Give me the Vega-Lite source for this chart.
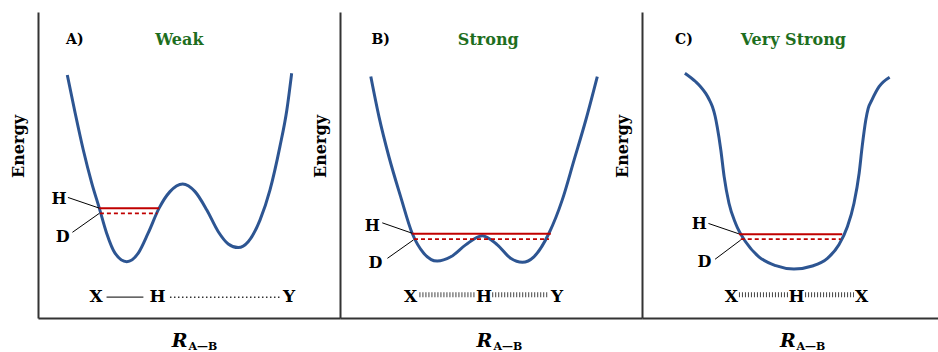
{
  "$schema": "https://vega.github.io/schema/vega-lite/v6.json",
  "padding": {"left": 10, "top": 12, "right": 0, "bottom": 0},
  "config": {
    "view": {"stroke": null},
    "axis": {"domainColor": "#333333", "domainWidth": 2, "ticks": false, "labels": false, "grid": false, "titleFont": "DejaVu Serif", "titleFontWeight": "bold", "titleFontSize": 16, "titleColor": "#000000"},
    "axisY": {"titleX": -20, "titleY": 134, "titleBaseline": "middle"}
  },
  "data": {"values": [
    {"panel": "A", "kind": "curve", "R": 0.97, "E": 7.94},
    {"panel": "A", "kind": "curve", "R": 1.23, "E": 6.70},
    {"panel": "A", "kind": "curve", "R": 1.50, "E": 5.49},
    {"panel": "A", "kind": "curve", "R": 1.78, "E": 4.41},
    {"panel": "A", "kind": "curve", "R": 2.03, "E": 3.59},
    {"panel": "A", "kind": "curve", "R": 2.27, "E": 2.78},
    {"panel": "A", "kind": "curve", "R": 2.55, "E": 2.12},
    {"panel": "A", "kind": "curve", "R": 2.94, "E": 1.84},
    {"panel": "A", "kind": "curve", "R": 3.32, "E": 2.12},
    {"panel": "A", "kind": "curve", "R": 3.65, "E": 2.78},
    {"panel": "A", "kind": "curve", "R": 4.01, "E": 3.59},
    {"panel": "A", "kind": "curve", "R": 4.37, "E": 4.13},
    {"panel": "A", "kind": "curve", "R": 4.79, "E": 4.38},
    {"panel": "A", "kind": "curve", "R": 5.20, "E": 4.13},
    {"panel": "A", "kind": "curve", "R": 5.59, "E": 3.53},
    {"panel": "A", "kind": "curve", "R": 5.97, "E": 2.82},
    {"panel": "A", "kind": "curve", "R": 6.30, "E": 2.42},
    {"panel": "A", "kind": "curve", "R": 6.63, "E": 2.30},
    {"panel": "A", "kind": "curve", "R": 6.96, "E": 2.49},
    {"panel": "A", "kind": "curve", "R": 7.35, "E": 3.20},
    {"panel": "A", "kind": "curve", "R": 7.68, "E": 4.18},
    {"panel": "A", "kind": "curve", "R": 8.01, "E": 5.60},
    {"panel": "A", "kind": "curve", "R": 8.24, "E": 6.80},
    {"panel": "A", "kind": "curve", "R": 8.40, "E": 8.00},

    {"panel": "B", "kind": "curve", "R": 1.02, "E": 7.89},
    {"panel": "B", "kind": "curve", "R": 1.29, "E": 6.58},
    {"panel": "B", "kind": "curve", "R": 1.62, "E": 5.27},
    {"panel": "B", "kind": "curve", "R": 2.01, "E": 3.96},
    {"panel": "B", "kind": "curve", "R": 2.39, "E": 2.77},
    {"panel": "B", "kind": "curve", "R": 2.78, "E": 2.11},
    {"panel": "B", "kind": "curve", "R": 3.22, "E": 1.86},
    {"panel": "B", "kind": "curve", "R": 3.67, "E": 2.00},
    {"panel": "B", "kind": "curve", "R": 4.16, "E": 2.39},
    {"panel": "B", "kind": "curve", "R": 4.71, "E": 2.69},
    {"panel": "B", "kind": "curve", "R": 5.21, "E": 2.39},
    {"panel": "B", "kind": "curve", "R": 5.65, "E": 1.95},
    {"panel": "B", "kind": "curve", "R": 6.04, "E": 1.82},
    {"panel": "B", "kind": "curve", "R": 6.42, "E": 2.00},
    {"panel": "B", "kind": "curve", "R": 6.92, "E": 2.77},
    {"panel": "B", "kind": "curve", "R": 7.36, "E": 3.86},
    {"panel": "B", "kind": "curve", "R": 7.75, "E": 5.16},
    {"panel": "B", "kind": "curve", "R": 8.14, "E": 6.47},
    {"panel": "B", "kind": "curve", "R": 8.52, "E": 7.89},

    {"panel": "C", "kind": "curve", "R": 1.42, "E": 8.00},
    {"panel": "C", "kind": "curve", "R": 1.78, "E": 7.72},
    {"panel": "C", "kind": "curve", "R": 1.94, "E": 7.56},
    {"panel": "C", "kind": "curve", "R": 2.11, "E": 7.34},
    {"panel": "C", "kind": "curve", "R": 2.22, "E": 7.15},
    {"panel": "C", "kind": "curve", "R": 2.33, "E": 6.91},
    {"panel": "C", "kind": "curve", "R": 2.42, "E": 6.60},
    {"panel": "C", "kind": "curve", "R": 2.49, "E": 6.25},
    {"panel": "C", "kind": "curve", "R": 2.61, "E": 5.49},
    {"panel": "C", "kind": "curve", "R": 2.72, "E": 4.62},
    {"panel": "C", "kind": "curve", "R": 2.88, "E": 3.75},
    {"panel": "C", "kind": "curve", "R": 3.10, "E": 3.09},
    {"panel": "C", "kind": "curve", "R": 3.43, "E": 2.49},
    {"panel": "C", "kind": "curve", "R": 3.87, "E": 2.00},
    {"panel": "C", "kind": "curve", "R": 4.43, "E": 1.71},
    {"panel": "C", "kind": "curve", "R": 5.03, "E": 1.60},
    {"panel": "C", "kind": "curve", "R": 5.64, "E": 1.70},
    {"panel": "C", "kind": "curve", "R": 6.14, "E": 1.95},
    {"panel": "C", "kind": "curve", "R": 6.52, "E": 2.39},
    {"panel": "C", "kind": "curve", "R": 6.80, "E": 2.98},
    {"panel": "C", "kind": "curve", "R": 7.02, "E": 3.75},
    {"panel": "C", "kind": "curve", "R": 7.19, "E": 4.73},
    {"panel": "C", "kind": "curve", "R": 7.29, "E": 5.60},
    {"panel": "C", "kind": "curve", "R": 7.41, "E": 6.47},
    {"panel": "C", "kind": "curve", "R": 7.49, "E": 6.85},
    {"panel": "C", "kind": "curve", "R": 7.61, "E": 7.12},
    {"panel": "C", "kind": "curve", "R": 7.85, "E": 7.56},
    {"panel": "C", "kind": "curve", "R": 8.20, "E": 7.87},

    {"panel": "A", "kind": "levelH", "R": 2.03, "R2": 4.01, "E": 3.59},
    {"panel": "A", "kind": "levelD", "R": 2.05, "R2": 3.95, "E": 3.42},
    {"panel": "B", "kind": "levelH", "R": 2.39, "R2": 6.98, "E": 2.75},
    {"panel": "B", "kind": "levelD", "R": 2.45, "R2": 6.92, "E": 2.58},
    {"panel": "C", "kind": "levelH", "R": 3.21, "R2": 6.63, "E": 2.74},
    {"panel": "C", "kind": "levelD", "R": 3.27, "R2": 6.58, "E": 2.58},

    {"panel": "A", "kind": "leader", "R": 0.99, "E": 3.94, "R2": 2.03, "E2": 3.59},
    {"panel": "A", "kind": "leader", "R": 1.14, "E": 2.80, "R2": 2.03, "E2": 3.42},
    {"panel": "B", "kind": "leader", "R": 1.40, "E": 3.11, "R2": 2.39, "E2": 2.77},
    {"panel": "B", "kind": "leader", "R": 1.57, "E": 1.95, "R2": 2.43, "E2": 2.55},
    {"panel": "C", "kind": "leader", "R": 2.20, "E": 3.09, "R2": 3.21, "E2": 2.75},
    {"panel": "C", "kind": "leader", "R": 2.42, "E": 1.92, "R2": 3.27, "E2": 2.55},

    {"panel": "A", "kind": "lvlLabel", "R": 0.70, "E": 3.90, "text": "H"},
    {"panel": "A", "kind": "lvlLabel", "R": 0.82, "E": 2.66, "text": "D"},
    {"panel": "B", "kind": "lvlLabel", "R": 1.07, "E": 3.01, "text": "H"},
    {"panel": "B", "kind": "lvlLabel", "R": 1.17, "E": 1.81, "text": "D"},
    {"panel": "C", "kind": "lvlLabel", "R": 1.90, "E": 3.07, "text": "H"},
    {"panel": "C", "kind": "lvlLabel", "R": 2.07, "E": 1.84, "text": "D"},

    {"panel": "A", "kind": "tag", "R": 1.22, "E": 9.08, "text": "A)"},
    {"panel": "B", "kind": "tag", "R": 1.35, "E": 9.08, "text": "B)"},
    {"panel": "C", "kind": "tag", "R": 1.39, "E": 9.08, "text": "C)"},
    {"panel": "A", "kind": "name", "R": 4.68, "E": 9.08, "text": "Weak"},
    {"panel": "B", "kind": "name", "R": 4.91, "E": 9.08, "text": "Strong"},
    {"panel": "C", "kind": "name", "R": 5.01, "E": 9.08, "text": "Very Strong"},

    {"panel": "A", "kind": "atom", "R": 1.92, "E": 0.68, "text": "X"},
    {"panel": "A", "kind": "atom", "R": 3.96, "E": 0.68, "text": "H"},
    {"panel": "A", "kind": "atom", "R": 8.31, "E": 0.68, "text": "Y"},
    {"panel": "B", "kind": "atom", "R": 2.34, "E": 0.68, "text": "X"},
    {"panel": "B", "kind": "atom", "R": 4.77, "E": 0.68, "text": "H"},
    {"panel": "B", "kind": "atom", "R": 7.19, "E": 0.68, "text": "Y"},
    {"panel": "C", "kind": "atom", "R": 2.96, "E": 0.68, "text": "X"},
    {"panel": "C", "kind": "atom", "R": 5.12, "E": 0.68, "text": "H"},
    {"panel": "C", "kind": "atom", "R": 7.27, "E": 0.68, "text": "X"},

    {"panel": "A", "kind": "bondSolid", "R": 2.27, "R2": 3.49, "E": 0.68},
    {"panel": "A", "kind": "bondDot", "R": 4.37, "R2": 8.01, "E": 0.68},
    {"panel": "B", "kind": "bondHash", "R": 2.63, "R2": 4.49, "E": 0.76},
    {"panel": "B", "kind": "bondHash", "R": 5.04, "R2": 6.92, "E": 0.76},
    {"panel": "C", "kind": "bondHash", "R": 3.21, "R2": 4.87, "E": 0.76},
    {"panel": "C", "kind": "bondHash", "R": 5.40, "R2": 7.02, "E": 0.76},

    {"panel": "A", "kind": "rlabel", "R": 4.69, "E": -0.95, "text": "R"},
    {"panel": "B", "kind": "rlabel", "R": 4.78, "E": -0.95, "text": "R"},
    {"panel": "C", "kind": "rlabel", "R": 4.83, "E": -0.95, "text": "R"},
    {"panel": "A", "kind": "sub", "R": 5.46, "E": -1.05, "text": "A—B"},
    {"panel": "B", "kind": "sub", "R": 5.56, "E": -1.05, "text": "A—B"},
    {"panel": "C", "kind": "sub", "R": 5.59, "E": -1.05, "text": "A—B"}
  ]},
  "facet": {"column": {"field": "panel", "type": "nominal", "header": null}},
  "spacing": 0,
  "bounds": "flush",
  "resolve": {"axis": {"y": "independent", "x": "independent"}},
  "spec": {
    "width": 302,
    "height": 306,
    "encoding": {
      "x": {"field": "R", "type": "quantitative", "scale": {"domain": [0, 10], "nice": false, "zero": false}, "axis": {"title": null}},
      "y": {"field": "E", "type": "quantitative", "scale": {"domain": [0, 10], "nice": false, "zero": false}, "axis": {"title": "Energy"}}
    },
    "layer": [
      {"transform": [{"filter": "datum.kind === 'curve'"}], "mark": {"type": "line", "interpolate": "monotone", "color": "#2D5592", "strokeWidth": 3}, "encoding": {}},
      {"transform": [{"filter": "datum.kind === 'levelH'"}], "mark": {"type": "rule", "color": "#C00000", "strokeWidth": 2}, "encoding": {"x2": {"field": "R2"}}},
      {"transform": [{"filter": "datum.kind === 'levelD'"}], "mark": {"type": "rule", "color": "#C00000", "strokeWidth": 1.8, "strokeDash": [4, 3]}, "encoding": {"x2": {"field": "R2"}}},
      {"transform": [{"filter": "datum.kind === 'leader'"}], "mark": {"type": "rule", "color": "#000000", "strokeWidth": 1}, "encoding": {"x2": {"field": "R2"}, "y2": {"field": "E2"}}},
      {"transform": [{"filter": "datum.kind === 'bondSolid'"}], "mark": {"type": "rule", "color": "#333333", "strokeWidth": 1.3}, "encoding": {"x2": {"field": "R2"}}},
      {"transform": [{"filter": "datum.kind === 'bondDot'"}], "mark": {"type": "rule", "color": "#333333", "strokeWidth": 1.5, "strokeDash": [1.5, 2.5]}, "encoding": {"x2": {"field": "R2"}}},
      {"transform": [{"filter": "datum.kind === 'bondHash'"}], "mark": {"type": "rule", "color": "#444444", "strokeWidth": 5, "strokeDash": [1, 2]}, "encoding": {"x2": {"field": "R2"}}},
      {"transform": [{"filter": "datum.kind === 'tag'"}], "mark": {"type": "text", "font": "DejaVu Serif", "fontWeight": "bold", "fontSize": 14, "color": "#000000", "baseline": "middle"}, "encoding": {"text": {"field": "text"}}},
      {"transform": [{"filter": "datum.kind === 'name'"}], "mark": {"type": "text", "font": "DejaVu Serif", "fontWeight": "bold", "fontSize": 16, "color": "#1E6E1E", "baseline": "middle"}, "encoding": {"text": {"field": "text"}}},
      {"transform": [{"filter": "datum.kind === 'lvlLabel'"}], "mark": {"type": "text", "font": "DejaVu Serif", "fontWeight": "bold", "fontSize": 16, "color": "#000000", "baseline": "middle"}, "encoding": {"text": {"field": "text"}}},
      {"transform": [{"filter": "datum.kind === 'atom'"}], "mark": {"type": "text", "font": "DejaVu Serif", "fontWeight": "bold", "fontSize": 17, "color": "#000000", "baseline": "middle"}, "encoding": {"text": {"field": "text"}}},
      {"transform": [{"filter": "datum.kind === 'rlabel'"}], "mark": {"type": "text", "font": "DejaVu Serif", "fontWeight": "bold", "fontStyle": "italic", "fontSize": 19, "color": "#000000", "baseline": "alphabetic"}, "encoding": {"text": {"field": "text"}}},
      {"transform": [{"filter": "datum.kind === 'sub'"}], "mark": {"type": "text", "font": "DejaVu Serif", "fontWeight": "bold", "fontSize": 11, "color": "#000000", "baseline": "alphabetic"}, "encoding": {"text": {"field": "text"}}}
    ]
  }
}
